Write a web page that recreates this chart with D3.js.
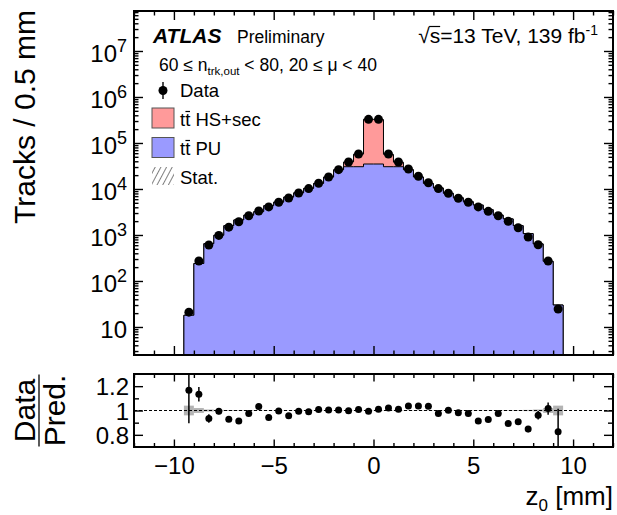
<!DOCTYPE html>
<html>
<head>
<meta charset="utf-8">
<script src="https://cdn.jsdelivr.net/npm/d3@7"></script>
<style>
body { margin: 0; background: #fff; }
svg text { font-family: "Liberation Sans", Arial, sans-serif; fill: #000; }
.tick line { stroke: #000; stroke-width: 1.4; }
</style>
</head>
<body>
<div class="chart"></div>
<script>
// z0 bin centres [mm], bins are 0.5 mm wide
var binCenters = [-9.25, -8.75, -8.25, -7.75, -7.25, -6.75, -6.25, -5.75, -5.25, -4.75, -4.25, -3.75, -3.25, -2.75, -2.25, -1.75, -1.25, -0.75, -0.25,
    0.25, 0.75, 1.25, 1.75, 2.25, 2.75, 3.25, 3.75, 4.25, 4.75, 5.25, 5.75, 6.25, 6.75, 7.25, 7.75, 8.25, 8.75, 9.25];

// tracks per bin
var dataCounts = [21, 272, 605, 980, 1480, 1940, 2620, 3320, 4070, 5150, 6360, 8180, 10200, 13300, 18200, 26300, 38600, 57700, 327000,
    327000, 57700, 38600, 27200, 18900, 13700, 10200, 8070, 6300, 5150, 4070, 3270, 2620, 1990, 1440, 905, 614, 272, 24.6];
var puCounts = [18, 240, 647, 986, 1590, 2120, 2690, 3210, 4320, 5180, 6650, 8230, 10300, 13200, 18100, 26100, 30500, 30500, 34900,
    34900, 30500, 30500, 26200, 18200, 13200, 10500, 8050, 6420, 5280, 4460, 3530, 2690, 2230, 1590, 1070, 639, 268, 30];
var hsCounts = [0, 0, 0, 0, 0, 0, 0, 0, 0, 0, 0, 0, 0, 0, 0, 0, 8200, 26700, 294000,
    288500, 26000, 7700, 0, 0, 0, 0, 0, 0, 0, 0, 0, 0, 0, 0, 0, 0, 0, 0];

// data / prediction
var ratioValues = [1.166, 1.133, 0.935, 0.994, 0.929, 0.913, 0.975, 1.033, 0.943, 0.995, 0.956, 0.994, 0.989, 1.008, 1.005, 1.005, 0.997, 1.008, 0.994,
    1.011, 1.021, 1.011, 1.038, 1.038, 1.035, 0.975, 1.002, 0.981, 0.975, 0.913, 0.926, 0.975, 0.894, 0.907, 0.847, 0.961, 1.016, 0.825];
var ratioErrors = [0.27, 0.06, 0.035, 0.025, 0.02, 0.015, 0.012, 0.01, 0.01, 0.01, 0.008, 0.008, 0.006, 0.006, 0.005, 0.004, 0.004, 0.003, 0.002,
    0.002, 0.003, 0.004, 0.004, 0.005, 0.006, 0.006, 0.008, 0.008, 0.01, 0.01, 0.01, 0.012, 0.015, 0.02, 0.025, 0.035, 0.05, 0.19];
var statErrors = [0.04, 0.02, 0.008, 0.005, 0.004, 0.003, 0.003, 0.002, 0.002, 0.002, 0.002, 0.002, 0.002, 0.002, 0.002, 0.002, 0.002, 0.002, 0.002,
    0.002, 0.002, 0.002, 0.002, 0.002, 0.002, 0.002, 0.002, 0.002, 0.002, 0.002, 0.002, 0.002, 0.003, 0.004, 0.005, 0.008, 0.02, 0.04];

var mainTicks = [10, 1e2, 1e3, 1e4, 1e5, 1e6, 1e7];
var xMajor = [-10, -5, 0, 5, 10];
var ratioTicks = [0.8, 1, 1.2];

var binHalf = 0.25;

var svg = d3.select(".chart").append("svg")
    .attr("width", 617)
    .attr("height", 515);

// frames
var left = 134, right = 613;
var mainTop = 11, mainBottom = 355;
var ratTop = 374, ratBottom = 447;

var x = d3.scaleLinear().domain([-12, 12]).range([left, right]);
var y = d3.scaleLog().domain([2.46, 7.4e7]).range([mainBottom, mainTop]);
var yr = d3.scaleLinear().domain([0.7, 1.3]).range([ratBottom, ratTop]);

var xMinor = d3.range(-12, 13, 1).filter(d => d % 5 !== 0);
var yMinor = [];
for (var e = 0; e <= 7; e++) {
    for (var m = 2; m <= 9; m++) {
        var v = m * Math.pow(10, e);
        if (v > y.domain()[0] && v < y.domain()[1]) yMinor.push(v);
    }
}

var defs = svg.append("defs");
defs.append("clipPath").attr("id", "clipMain").append("rect")
    .attr("x", left).attr("y", mainTop).attr("width", right - left).attr("height", mainBottom - mainTop);
defs.append("clipPath").attr("id", "clipRat").append("rect")
    .attr("x", left).attr("y", ratTop).attr("width", right - left).attr("height", ratBottom - ratTop);
var hatch = defs.append("pattern").attr("id", "hatch")
    .attr("patternUnits", "userSpaceOnUse").attr("width", 5).attr("height", 5)
    .attr("patternTransform", "rotate(28)");
hatch.append("line").attr("x1", 0).attr("y1", 0).attr("x2", 0).attr("y2", 5)
    .attr("stroke", "#555").attr("stroke-width", 1.5);

// ---------------- main panel ----------------
var mainG = svg.append("g").attr("clip-path", "url(#clipMain)");

function stepPoints(vals) {
    var pts = [[binCenters[0] - binHalf, y.domain()[0]]];
    binCenters.forEach((c, i) => {
        pts.push([c - binHalf, vals[i]]);
        pts.push([c + binHalf, vals[i]]);
    });
    pts.push([binCenters[binCenters.length - 1] + binHalf, y.domain()[0]]);
    return pts;
}
var stepLine = d3.line().x(d => x(d[0])).y(d => y(Math.max(d[1], y.domain()[0])));

var totals = puCounts.map((p, i) => p + hsCounts[i]);

mainG.append("path")
    .attr("d", stepLine(stepPoints(totals)) + "Z")
    .attr("fill", "#ff9a9a")
    .attr("stroke", "#000")
    .attr("stroke-width", 1);

mainG.append("path")
    .attr("d", stepLine(stepPoints(puCounts)) + "Z")
    .attr("fill", "#9a9aff")
    .attr("stroke", "#000")
    .attr("stroke-width", 1);

mainG.append("g").selectAll("circle")
    .data(dataCounts)
    .enter()
    .append("circle")
    .attr("cx", (d, i) => x(binCenters[i]))
    .attr("cy", d => y(d))
    .attr("r", 4.5)
    .attr("fill", "#000");

// main axes (ticks inward)
function drawTicks(g, axis) {
    g.call(axis);
    g.select(".domain").remove();
    return g;
}
drawTicks(svg.append("g").attr("transform", `translate(0,${mainBottom})`),
    d3.axisBottom(x).tickValues(xMajor).tickSize(-9).tickFormat(""));
drawTicks(svg.append("g").attr("transform", `translate(0,${mainBottom})`),
    d3.axisBottom(x).tickValues(xMinor).tickSize(-4.5).tickFormat(""));
drawTicks(svg.append("g").attr("transform", `translate(0,${mainTop})`),
    d3.axisTop(x).tickValues(xMajor).tickSize(-9).tickFormat(""));
drawTicks(svg.append("g").attr("transform", `translate(0,${mainTop})`),
    d3.axisTop(x).tickValues(xMinor).tickSize(-4.5).tickFormat(""));
drawTicks(svg.append("g").attr("transform", `translate(${right},0)`),
    d3.axisRight(y).tickValues(mainTicks).tickSize(-9).tickFormat(""));
drawTicks(svg.append("g").attr("transform", `translate(${right},0)`),
    d3.axisRight(y).tickValues(yMinor).tickSize(-4.5).tickFormat(""));
drawTicks(svg.append("g").attr("transform", `translate(${left},0)`),
    d3.axisLeft(y).tickValues(yMinor).tickSize(-4.5).tickFormat(""));

var yAxisG = drawTicks(svg.append("g").attr("transform", `translate(${left},0)`),
    d3.axisLeft(y).tickValues(mainTicks).tickSize(-9).tickPadding(7).tickFormat(""));
yAxisG.selectAll(".tick text").each(function(d) {
    var t = d3.select(this)
        .attr("font-size", 24)
        .attr("dy", "0.45em")
        .attr("text-anchor", "end");
    var p = Math.round(Math.log10(d));
    t.append("tspan").text("10");
    if (p > 1) {
        t.append("tspan").attr("font-size", 18).attr("dy", -10).text(p);
    }
});

svg.append("rect")
    .attr("x", left).attr("y", mainTop)
    .attr("width", right - left).attr("height", mainBottom - mainTop)
    .attr("fill", "none").attr("stroke", "#000").attr("stroke-width", 2);

// y title
svg.append("text")
    .attr("transform", "translate(35,10) rotate(-90)")
    .attr("text-anchor", "end")
    .attr("font-size", 30)
    .text("Tracks / 0.5 mm");

// labels
svg.append("text")
    .attr("x", 153).attr("y", 43)
    .attr("font-size", 21)
    .attr("font-weight", "bold")
    .attr("font-style", "italic")
    .text("ATLAS");
svg.append("text")
    .attr("x", 237).attr("y", 43)
    .attr("font-size", 17.5)
    .text("Preliminary");

var sqrtText = svg.append("text")
    .attr("x", 598).attr("y", 43)
    .attr("font-size", 21)
    .attr("text-anchor", "end");
sqrtText.append("tspan").text("\u221As=13 TeV, 139 fb");
sqrtText.append("tspan").attr("font-size", 14).attr("dy", -8).text("-1");
var sNode = sqrtText.node();
var sx0 = sNode.getEndPositionOfChar(0).x, sx1 = sNode.getEndPositionOfChar(1).x;
svg.append("line")
    .attr("x1", sx0 - 0.5).attr("x2", sx1)
    .attr("y1", 43 - 16.5).attr("y2", 43 - 16.5)
    .attr("stroke", "#000").attr("stroke-width", 1.2);

var cutText = svg.append("text")
    .attr("x", 159).attr("y", 71)
    .attr("font-size", 17.5);
cutText.append("tspan").text("60 \u2264 n");
cutText.append("tspan").attr("font-size", 11.5).attr("dy", 4).text("trk,out");
cutText.append("tspan").attr("dy", -4).text(" < 80, 20 \u2264 \u03BC < 40");

// legend
var legendX = 152, legendTextX = 180;
svg.append("line")
    .attr("x1", 163).attr("x2", 163).attr("y1", 82).attr("y2", 99)
    .attr("stroke", "#000").attr("stroke-width", 1.4);
svg.append("circle").attr("cx", 163).attr("cy", 90.5).attr("r", 4.5).attr("fill", "#000");
svg.append("text").attr("x", legendTextX).attr("y", 97).attr("font-size", 18.5).text("Data");

svg.append("rect").attr("x", legendX).attr("y", 108).attr("width", 22).attr("height", 20)
    .attr("fill", "#ff9a9a").attr("stroke", "#555").attr("stroke-width", 1);
svg.append("rect").attr("x", legendX).attr("y", 137.5).attr("width", 22).attr("height", 20)
    .attr("fill", "#9a9aff").attr("stroke", "#555").attr("stroke-width", 1);
svg.append("rect").attr("x", legendX).attr("y", 167).attr("width", 22).attr("height", 18)
    .attr("fill", "url(#hatch)");

function ttbarLabel(yPos, rest) {
    var t = svg.append("text").attr("x", legendTextX).attr("y", yPos).attr("font-size", 18.5).text("tt" + rest);
    var n = t.node();
    var a = n.getStartPositionOfChar(1).x, b = n.getEndPositionOfChar(1).x;
    svg.append("line")
        .attr("x1", a + 0.3).attr("x2", b - 0.3)
        .attr("y1", yPos - 14.5).attr("y2", yPos - 14.5)
        .attr("stroke", "#000").attr("stroke-width", 1.2);
}
ttbarLabel(126, " HS+sec");
ttbarLabel(155, " PU");
svg.append("text").attr("x", legendTextX).attr("y", 183.5).attr("font-size", 18.5).text("Stat.");

// ---------------- ratio panel ----------------
var ratG = svg.append("g").attr("clip-path", "url(#clipRat)");

ratG.append("g").selectAll("rect")
    .data(statErrors)
    .enter()
    .append("rect")
    .attr("x", (d, i) => x(binCenters[i] - binHalf))
    .attr("width", (d, i) => x(binCenters[i] + binHalf) - x(binCenters[i] - binHalf))
    .attr("y", d => yr(1 + d))
    .attr("height", d => yr(1 - d) - yr(1 + d))
    .attr("fill", "#999")
    .attr("fill-opacity", 0.75);

ratG.append("line")
    .attr("x1", left).attr("x2", right)
    .attr("y1", yr(1)).attr("y2", yr(1))
    .attr("stroke", "#000").attr("stroke-width", 1.2)
    .attr("stroke-dasharray", "3,2");

ratG.append("g").selectAll("line")
    .data(ratioValues)
    .enter()
    .append("line")
    .attr("x1", (d, i) => x(binCenters[i]))
    .attr("x2", (d, i) => x(binCenters[i]))
    .attr("y1", (d, i) => yr(d + ratioErrors[i]))
    .attr("y2", (d, i) => yr(d - ratioErrors[i]))
    .attr("stroke", "#000").attr("stroke-width", 1.5);

ratG.append("g").selectAll("circle")
    .data(ratioValues)
    .enter()
    .append("circle")
    .attr("cx", (d, i) => x(binCenters[i]))
    .attr("cy", d => yr(d))
    .attr("r", 3.5)
    .attr("fill", "#000");

drawTicks(svg.append("g").attr("transform", `translate(0,${ratBottom})`),
    d3.axisBottom(x).tickValues(xMinor).tickSize(-4).tickFormat(""));
var xAxisG = drawTicks(svg.append("g").attr("transform", `translate(0,${ratBottom})`),
    d3.axisBottom(x).tickValues(xMajor).tickSize(-7.5).tickPadding(10));
xAxisG.selectAll(".tick text").attr("font-size", 24);
drawTicks(svg.append("g").attr("transform", `translate(0,${ratTop})`),
    d3.axisTop(x).tickValues(xMinor).tickSize(-4).tickFormat(""));
drawTicks(svg.append("g").attr("transform", `translate(0,${ratTop})`),
    d3.axisTop(x).tickValues(xMajor).tickSize(-7.5).tickFormat(""));

var yrAxisG = drawTicks(svg.append("g").attr("transform", `translate(${left},0)`),
    d3.axisLeft(yr).tickValues(ratioTicks).tickSize(-9).tickPadding(5)
        .tickFormat(d => d === 1 ? "1" : d3.format(".1f")(d)));
yrAxisG.selectAll(".tick text").attr("font-size", 24).attr("dy", "0.36em");
drawTicks(svg.append("g").attr("transform", `translate(${left},0)`),
    d3.axisLeft(yr).tickValues([0.9, 1.1]).tickSize(-5).tickFormat(""));
drawTicks(svg.append("g").attr("transform", `translate(${right},0)`),
    d3.axisRight(yr).tickValues(ratioTicks).tickSize(-9).tickFormat(""));
drawTicks(svg.append("g").attr("transform", `translate(${right},0)`),
    d3.axisRight(yr).tickValues([0.9, 1.1]).tickSize(-5).tickFormat(""));

svg.append("rect")
    .attr("x", left).attr("y", ratTop)
    .attr("width", right - left).attr("height", ratBottom - ratTop)
    .attr("fill", "none").attr("stroke", "#000").attr("stroke-width", 2);

// ratio y title as a fraction
var fracY = (ratTop + ratBottom) / 2;
svg.append("text")
    .attr("transform", `translate(35,${fracY}) rotate(-90)`)
    .attr("text-anchor", "middle")
    .attr("font-size", 30)
    .text("Data");
svg.append("text")
    .attr("transform", `translate(65,${fracY}) rotate(-90)`)
    .attr("text-anchor", "middle")
    .attr("font-size", 30)
    .text("Pred.");
svg.append("line")
    .attr("x1", 39).attr("x2", 39)
    .attr("y1", fracY - 36).attr("y2", fracY + 36)
    .attr("stroke", "#000").attr("stroke-width", 1.3);

// x title
var xTitle = svg.append("text")
    .attr("x", right).attr("y", 505)
    .attr("text-anchor", "end")
    .attr("font-size", 26);
xTitle.append("tspan").text("z");
xTitle.append("tspan").attr("font-size", 17).attr("dy", 6).text("0");
xTitle.append("tspan").attr("dy", -6).text(" [mm]");
</script>
</body>
</html>
